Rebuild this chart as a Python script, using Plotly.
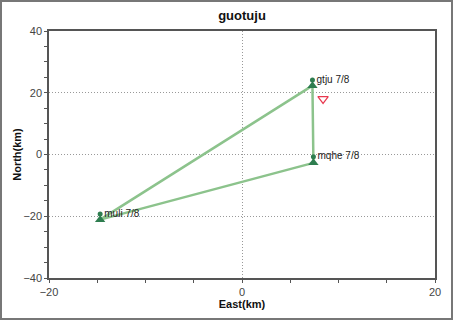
import plotly.graph_objects as go

stations = ["gtju", "mqhe", "muli"]
labels = ["gtju 7/8", "mqhe 7/8", "muli 7/8"]
east = [7.3, 7.4, -14.7]
north_dot = [24.1, -0.7, -19.3]
north_tri = [22.3, -2.7, -21.1]
loop_order = [2, 0, 1, 2]
red_east = [8.4]
red_north = [18.0]

x_ticks = [-20, 0, 20]
y_ticks = [-40, -20, 0, 20, 40]

fig = go.Figure()
fig.add_trace(go.Scatter(
    x=[east[i] for i in loop_order], y=[north_tri[i] for i in loop_order],
    mode="lines", line=dict(color="rgb(140,195,140)", width=2.5), hoverinfo="skip"))
fig.add_trace(go.Scatter(
    x=east, y=north_dot, mode="markers+text", text=labels, textposition="middle right",
    textfont=dict(family="Arial", size=10, color="#222"),
    marker=dict(symbol="circle", size=5, color="#2e7d4f")))
fig.add_trace(go.Scatter(
    x=east, y=north_tri, mode="markers",
    marker=dict(symbol="triangle-up", size=9, color="#2e7d4f")))
fig.add_trace(go.Scatter(
    x=red_east, y=red_north, mode="markers",
    marker=dict(symbol="triangle-down-open", size=9, color="#e8384f", line=dict(width=1.2))))

axis_common = dict(showline=True, mirror=True, linecolor="#555", linewidth=1.5,
                   ticks="outside", ticklen=3, tickcolor="#555", automargin=False,
                   showgrid=True, gridcolor="#999", griddash="1px,2px", gridwidth=1,
                   zeroline=False, tickfont=dict(family="Arial", size=11, color="#444"),
                   minor=dict(dtick=5, ticks="outside", ticklen=3, tickcolor="#555", showgrid=False))

fig.update_layout(
    width=454, height=322, plot_bgcolor="white", paper_bgcolor="white", showlegend=False,
    margin=dict(l=49, r=19, t=31, b=44),
    title=dict(text="<b>guotuju</b>", x=(242) / 454, y=1 - 15 / 322, xanchor="center", yanchor="middle",
               font=dict(family="Arial", size=13, color="#111")),
    xaxis=dict(range=[-20, 20], tickvals=x_ticks, **axis_common,
               title=dict(text="<b>East(km)</b>", font=dict(family="Arial", size=11, color="#111"), standoff=3)),
    yaxis=dict(range=[-40, 40], tickvals=y_ticks, **axis_common,
               title=dict(text="<b>North(km)</b>", font=dict(family="Arial", size=11, color="#111"), standoff=0)),
)
fig.add_shape(type="rect", xref="paper", yref="paper",
              x0=(1 - 49) / 386, x1=(452 - 49) / 386, y0=(278 - 319) / 247, y1=(278 - 1) / 247,
              line=dict(color="#777", width=2), layer="below")
fig.write_html("out.html")
